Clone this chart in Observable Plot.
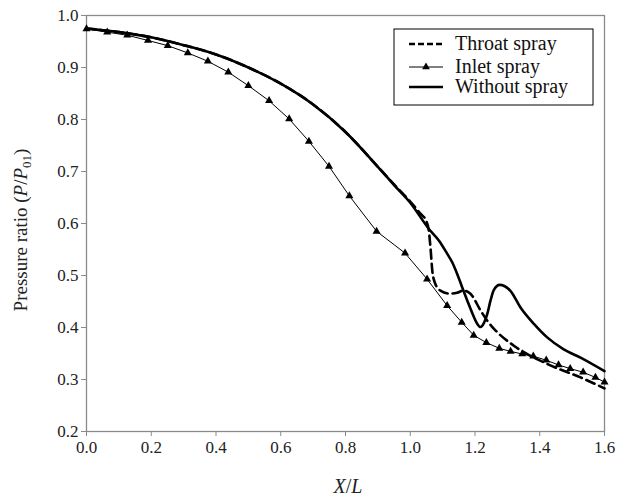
<!DOCTYPE html>
<html>
<head>
<meta charset="utf-8">
<script src="https://cdn.jsdelivr.net/npm/d3@7"></script>
<script src="https://cdn.jsdelivr.net/npm/@observablehq/plot@0.6"></script>
<style>
  html, body { margin: 0; padding: 0; background: #fff; }
  #chart { width: 632px; height: 499px; }
</style>
</head>
<body>
<div id="chart"></div>
<script>
// Without spray (solid)
const withoutX = [0, 0.1, 0.2, 0.3, 0.4, 0.5, 0.6, 0.7, 0.8, 0.9, 0.95, 1.0, 1.057, 1.09, 1.114, 1.13, 1.145, 1.16, 1.176, 1.192, 1.207, 1.217, 1.227, 1.238, 1.248, 1.258, 1.276, 1.31, 1.34, 1.382, 1.423, 1.474, 1.526, 1.6];
const withoutP = [0.975, 0.968, 0.958, 0.943, 0.925, 0.900, 0.869, 0.829, 0.776, 0.709, 0.674, 0.640, 0.590, 0.566, 0.542, 0.525, 0.503, 0.478, 0.452, 0.427, 0.407, 0.401, 0.408, 0.426, 0.452, 0.472, 0.482, 0.470, 0.439, 0.407, 0.381, 0.358, 0.342, 0.316];

// Throat spray (dashed)
const throatX = [0, 0.1, 0.2, 0.3, 0.4, 0.5, 0.6, 0.7, 0.8, 0.9, 0.95, 1.0, 1.03, 1.05, 1.057, 1.063, 1.068, 1.075, 1.093, 1.124, 1.145, 1.165, 1.186, 1.217, 1.238, 1.258, 1.32, 1.423, 1.526, 1.6];
const throatP = [0.975, 0.968, 0.958, 0.943, 0.925, 0.900, 0.869, 0.829, 0.776, 0.709, 0.675, 0.642, 0.620, 0.604, 0.588, 0.550, 0.510, 0.488, 0.471, 0.465, 0.467, 0.471, 0.465, 0.433, 0.413, 0.398, 0.365, 0.330, 0.304, 0.283];

// Inlet spray (thin line with triangle markers)
const inletX = [0, 0.064, 0.126, 0.19, 0.251, 0.313, 0.375, 0.438, 0.5, 0.564, 0.626, 0.687, 0.749, 0.812, 0.896, 0.984, 1.052, 1.114, 1.159, 1.196, 1.235, 1.275, 1.31, 1.346, 1.38, 1.42, 1.458, 1.494, 1.534, 1.572, 1.6];
const inletP = [0.974, 0.968, 0.962, 0.952, 0.942, 0.928, 0.912, 0.891, 0.865, 0.836, 0.801, 0.758, 0.710, 0.653, 0.585, 0.543, 0.493, 0.442, 0.410, 0.385, 0.371, 0.360, 0.354, 0.349, 0.345, 0.337, 0.328, 0.321, 0.314, 0.304, 0.295];

const xTicks = [0, 0.2, 0.4, 0.6, 0.8, 1.0, 1.2, 1.4, 1.6];
const yTicks = [0.2, 0.3, 0.4, 0.5, 0.6, 0.7, 0.8, 0.9, 1.0];
const seriesNames = ["Throat spray", "Inlet spray", "Without spray"];

const toRows = (xs, ps) => xs.map((x, i) => ({x, p: ps[i]}));
const withoutData = toRows(withoutX, withoutP);
const throatData = toRows(throatX, throatP);
const inletData = toRows(inletX, inletP);

const FONT = "'Liberation Serif', 'DejaVu Serif', serif";
const GREY = "#8a8a8a";

const plot = Plot.plot({
  width: 632,
  height: 499,
  marginLeft: 86,
  marginRight: 28,
  marginTop: 15,
  marginBottom: 68,
  style: {fontFamily: FONT, fontSize: "17px", background: "#fff", color: "#000"},
  x: {domain: [0, 1.6], ticks: xTicks, tickFormat: d3.format(".1f"), label: null},
  y: {domain: [0.2, 1.0], ticks: yTicks, tickFormat: d3.format(".1f"), label: null},
  marks: [
    Plot.frame({stroke: GREY, strokeWidth: 1.3}),
    Plot.axisX({ticks: xTicks, tickFormat: d3.format(".1f"), tickSize: 5, tickPadding: 4, stroke: GREY, fill: "#222", label: null}),
    Plot.axisY({ticks: yTicks, tickFormat: d3.format(".1f"), tickSize: 5, tickPadding: 3, stroke: GREY, fill: "#222", label: null}),
    Plot.line(withoutData, {x: "x", y: "p", stroke: "#000", strokeWidth: 2.6, curve: "monotone-x"}),
    Plot.line(throatData, {x: "x", y: "p", stroke: "#000", strokeWidth: 2.6, strokeDasharray: "9,5", curve: "monotone-x"}),
    Plot.line(inletData, {x: "x", y: "p", stroke: "#000", strokeWidth: 1}),
    Plot.dot(inletData, {x: "x", y: "p", symbol: "triangle", r: 3, fill: "#000", stroke: "none"})
  ]
});

document.getElementById("chart").appendChild(plot);

const svg = d3.select(plot);

// Y axis title
const yt = svg.append("text")
  .attr("transform", "translate(27,230) rotate(-90)")
  .attr("text-anchor", "middle")
  .style("font-family", FONT).style("font-size", "19px").attr("fill", "#222");
yt.append("tspan").text("Pressure ratio (");
yt.append("tspan").attr("font-style", "italic").text("P");
yt.append("tspan").text("/");
yt.append("tspan").attr("font-style", "italic").text("P");
yt.append("tspan").attr("font-size", "13px").attr("dy", 4).text("01");
yt.append("tspan").attr("dy", -4).text(")");

// X axis title
const xt = svg.append("text")
  .attr("x", 348).attr("y", 493)
  .attr("text-anchor", "middle")
  .style("font-family", FONT).style("font-size", "20px").attr("fill", "#222");
xt.append("tspan").attr("font-style", "italic").text("X");
xt.append("tspan").text("/");
xt.append("tspan").attr("font-style", "italic").text("L");

// Legend
const lg = svg.append("g");
lg.append("rect").attr("x", 394).attr("y", 29).attr("width", 199).attr("height", 76)
  .attr("fill", "#fff").attr("stroke", "#000").attr("stroke-width", 1);
const rowsY = [44, 67, 87];
lg.append("line").attr("x1", 409).attr("x2", 443).attr("y1", rowsY[0]).attr("y2", rowsY[0])
  .attr("stroke", "#000").attr("stroke-width", 2.6).attr("stroke-dasharray", "6,3");
lg.append("line").attr("x1", 409).attr("x2", 443).attr("y1", rowsY[1]).attr("y2", rowsY[1])
  .attr("stroke", "#000").attr("stroke-width", 1);
lg.append("path").attr("d", d3.symbol(d3.symbolTriangle, 26)()).attr("transform", `translate(426,${rowsY[1]})`).attr("fill", "#000");
lg.append("line").attr("x1", 409).attr("x2", 443).attr("y1", rowsY[2]).attr("y2", rowsY[2])
  .attr("stroke", "#000").attr("stroke-width", 2.6);
seriesNames.forEach((name, i) => {
  lg.append("text").attr("x", 455).attr("y", rowsY[i] + 6)
    .attr("text-anchor", "start")
    .style("font-family", FONT).style("font-size", "20px").attr("fill", "#111").text(name);
});
</script>
</body>
</html>
